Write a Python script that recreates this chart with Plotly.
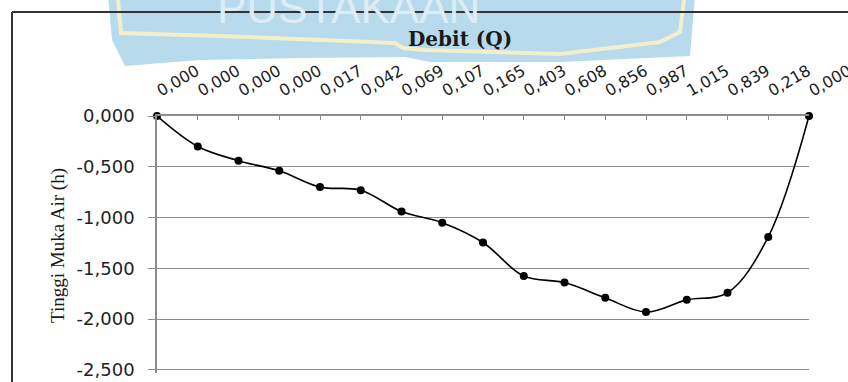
import plotly.graph_objects as go

# ---- data ----
debit_labels = ["0,000", "0,000", "0,000", "0,000", "0,017", "0,042", "0,069", "0,107",
                "0,165", "0,403", "0,608", "0,856", "0,987", "1,015", "0,839", "0,218", "0,000"]
tinggi_muka_air = [0.0, -0.30, -0.44, -0.54, -0.70, -0.73, -0.94, -1.05,
                   -1.245, -1.575, -1.64, -1.79, -1.93, -1.81, -1.74, -1.19, 0.0]
y_tick_vals = [0.0, -0.5, -1.0, -1.5, -2.0, -2.5]
y_tick_text = ["0,000", "-0,500", "-1,000", "-1,500", "-2,000", "-2,500"]
x_title = "Debit (Q)"
y_title = "Tinggi Muka Air (h)"
watermark_text = "PUSTAKAAN"

# ---- layout geometry (pixels) ----
W, H = 848, 382
L, R, T = 157, 39, 116
PX_PER_UNIT = 101.6
Y_MIN = -2.53
PH = int(round(-Y_MIN * PX_PER_UNIT))
B = H - T - PH
PW = W - L - R


def px(x):
    return (x - L) / PW


def py(y):
    return 1 - (y - T) / PH


def path(points, close=True):
    s = "M " + " L ".join(f"{px(x):.4f},{py(y):.4f}" for x, y in points)
    return s + (" Z" if close else "")


x_idx = list(range(len(debit_labels)))

fig = go.Figure()
fig.add_trace(go.Scatter(
    x=x_idx, y=tinggi_muka_air, mode="lines+markers",
    line=dict(color="black", width=1.6, shape="spline", smoothing=1.0),
    marker=dict(color="black", size=8),
    cliponaxis=False, showlegend=False,
))

grid = "#8c8c8c"
fig.update_layout(
    width=W, height=H,
    margin=dict(l=L, r=R, t=T, b=B, autoexpand=False),
    paper_bgcolor="white", plot_bgcolor="white",
    xaxis=dict(
        side="top", range=[0, len(debit_labels) - 1],
        tickmode="array", tickvals=x_idx, ticktext=debit_labels,
        tickangle=-30, ticks="inside", ticklen=4, tickcolor=grid,
        showline=True, linecolor=grid, linewidth=1.5,
        showgrid=False, zeroline=False,
        tickfont=dict(family="DejaVu Sans", size=16, color="#222"),
        ticklabelstandoff=10, ticklabeloverflow="allow",
    ),
    yaxis=dict(
        range=[Y_MIN, 0], tickmode="array", tickvals=y_tick_vals, ticktext=y_tick_text,
        ticks="outside", ticklen=7, tickcolor=grid,
        showline=True, linecolor=grid, linewidth=1.5,
        showgrid=True, gridcolor=grid, gridwidth=1.2, zeroline=False,
        tickfont=dict(family="DejaVu Sans", size=18, color="#222"),
        ticklabelstandoff=10,
    ),
    shapes=[
        # watermark banner
        dict(type="path", xref="paper", yref="paper", layer="below",
             path=path([(108, -5), (695, -5), (690, 56), (560, 62), (430, 62), (405, 57),
                        (300, 58), (200, 60), (125, 66), (112, 40)]),
             fillcolor="#b7dbec", line=dict(width=0)),
        dict(type="path", xref="paper", yref="paper", layer="below",
             path=path([(118, 0), (121, 33), (250, 37), (395, 43), (403, 48), (424, 50),
                        (560, 54), (660, 42), (680, 32), (684, 0)], close=False),
             line=dict(color="#f4efc9", width=4)),
        # frame
        dict(type="line", xref="paper", yref="paper", x0=px(12), x1=px(860), y0=py(12), y1=py(12),
             line=dict(color="#333", width=2)),
        dict(type="line", xref="paper", yref="paper", x0=px(12), x1=px(12), y0=py(12), y1=py(400),
             line=dict(color="#333", width=2)),
    ],
    annotations=[
        dict(text=watermark_text, xref="paper", yref="paper", x=px(482), y=py(34),
             xanchor="right", yanchor="bottom", showarrow=False,
             font=dict(family="Liberation Sans", size=44, color="#dcedf6")),
        dict(text=f"<b>{x_title}</b>", xref="paper", yref="paper", x=px(460), y=py(39),
             xanchor="center", yanchor="middle", showarrow=False,
             font=dict(family="DejaVu Serif", size=20, color="#1a1a1a")),
        dict(text=y_title, xref="paper", yref="paper", x=px(58), y=py(245),
             xanchor="center", yanchor="middle", textangle=-90, showarrow=False,
             font=dict(family="Liberation Serif", size=19, color="#1a1a1a")),
    ],
)

fig.write_html("out.html")
